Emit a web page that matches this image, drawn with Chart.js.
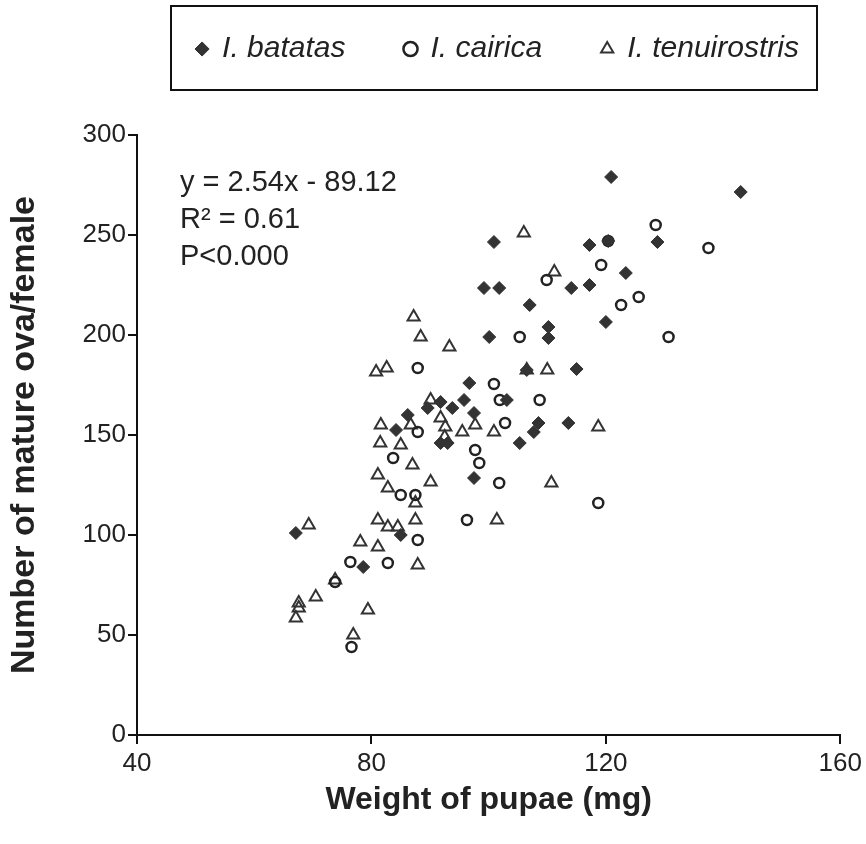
<!DOCTYPE html>
<html>
<head>
<meta charset="utf-8">
<script src="https://cdn.jsdelivr.net/npm/chart.js@4.4.1/dist/chart.umd.min.js"></script>
<style>
  html, body { margin: 0; padding: 0; background: #fff; }
</style>
</head>
<body>
<canvas id="scatter" width="866" height="844"></canvas>
<script>
// Values (x = weight of pupae in mg, y = mature ova per female)
const batatasX = [120.9, 143.0, 100.9, 117.2, 120.4, 128.8, 123.4, 99.2, 101.8, 114.1, 117.2, 107.0, 120.0,
    100.1, 110.2, 110.2, 106.5, 115.0, 96.7, 103.1, 95.8, 91.8, 89.6, 93.8, 97.5, 86.2, 84.2, 91.8, 93.0,
    108.5, 107.7, 113.6, 105.3, 97.5, 85.0, 78.6, 67.1];
const batatasY = [279, 271.5, 246.5, 245, 247, 246.5, 231, 223.5, 223.5, 223.5, 225, 215, 206.5,
    199, 204, 198.5, 182.5, 183, 176, 167.5, 167.5, 166.5, 163.5, 163.5, 161, 160, 152.5, 146, 146,
    156, 151.5, 156, 146, 128.5, 100, 84, 101];

const cairicaX = [128.5, 137.5, 119.2, 109.9, 125.6, 122.6, 130.7, 105.3, 87.9, 100.9, 101.9, 108.7, 102.8,
    87.9, 97.7, 98.4, 83.7, 101.8, 118.7, 85.0, 87.5, 96.3, 87.9, 76.4, 82.8, 73.8, 76.6, 120.4];
const cairicaY = [255, 243.5, 235, 227.5, 219, 215, 199, 199, 183.5, 175.5, 167.5, 167.5, 156,
    151.5, 142.5, 136, 138.5, 126, 116, 120, 120, 107.5, 97.5, 86.5, 86, 76.5, 44, 247];

const tenuiX = [106.0, 111.2, 87.2, 88.4, 93.3, 80.8, 82.6, 106.5, 110.0, 90.1, 91.8, 97.7, 81.6, 86.7,
    92.6, 95.5, 100.9, 118.7, 81.5, 85.0, 92.5, 87.0, 81.1, 90.1, 82.8, 87.5, 110.7, 81.1, 82.8, 84.5,
    87.5, 101.4, 78.1, 81.1, 87.9, 69.3, 73.8, 70.5, 67.6, 67.6, 67.1, 79.4, 76.9];
const tenuiY = [251, 231.5, 209, 199, 194, 181.5, 183.5, 182.5, 182.5, 167.5, 158.5, 155, 155, 155,
    154, 151.5, 151.5, 154, 146, 145, 149, 135, 130, 126.5, 123.5, 116, 126, 107.5, 104, 104,
    107.5, 107.5, 96.5, 94, 85, 105, 77.5, 69, 66, 63.5, 58.5, 62.5, 50];

const seriesNames = ['I. batatas', 'I. cairica', 'I. tenuirostris'];
const xTicks = [40, 80, 120, 160];
const yTicks = [0, 50, 100, 150, 200, 250, 300];
const statLines = ['y = 2.54x - 89.12', 'R\u00B2 = 0.61', 'P<0.000'];

const FONT = '"Liberation Sans", Arial, sans-serif';
const INK = '#222';

function toPoints(xs, ys) {
    return xs.map((x, i) => ({ x: x, y: ys[i] }));
}

// Box round the legend, and the regression text in the top-left of the plot
const extrasPlugin = {
    id: 'extras',
    beforeInit(chart) {
        const legend = chart.legend;
        const originalFit = legend.fit;
        legend.fit = function fit() {
            originalFit.bind(legend)();
            this.height = 135;
        };
        // nudge the legend row into the framed box
        const originalDraw = legend.draw;
        legend.draw = function draw() {
            chart.ctx.save();
            chart.ctx.translate(75, -26);
            originalDraw.bind(legend)();
            chart.ctx.restore();
        };
    },
    afterDraw(chart) {
        const ctx = chart.ctx;
        ctx.save();
        ctx.strokeStyle = '#111';
        ctx.lineWidth = 2;
        ctx.strokeRect(171, 6, 646, 84);

        ctx.fillStyle = INK;
        ctx.font = '29px ' + FONT;
        ctx.textBaseline = 'middle';
        ctx.textAlign = 'left';
        statLines.forEach((line, i) => {
            ctx.fillText(line, 180, 183 + i * 37);
        });
        ctx.restore();
    }
};

const ctx = document.getElementById('scatter').getContext('2d');
const chart = new Chart(ctx, {
    type: 'scatter',
    data: {
        datasets: [
            {
                label: seriesNames[0],
                data: toPoints(batatasX, batatasY),
                pointStyle: 'rectRot',
                pointRadius: 6.5,
                backgroundColor: '#333',
                borderColor: '#333',
                borderWidth: 1
            },
            {
                label: seriesNames[1],
                data: toPoints(cairicaX, cairicaY),
                pointStyle: 'circle',
                pointRadius: 5,
                backgroundColor: 'rgba(255,255,255,0)',
                borderColor: '#222',
                borderWidth: 2.5
            },
            {
                label: seriesNames[2],
                data: toPoints(tenuiX, tenuiY),
                pointStyle: 'triangle',
                pointRadius: 7,
                backgroundColor: 'rgba(255,255,255,0)',
                borderColor: '#333',
                borderWidth: 2
            }
        ]
    },
    options: {
        responsive: false,
        animation: false,
        devicePixelRatio: 1,
        layout: { padding: { left: 0, right: 20, top: 0, bottom: 0 } },
        plugins: {
            tooltip: { enabled: false },
            legend: {
                position: 'top',
                labels: {
                    usePointStyle: true,
                    boxWidth: 10,
                    boxHeight: 10,
                    padding: 60,
                    color: INK,
                    font: { family: FONT, size: 30, style: 'italic' }
                }
            }
        },
        scales: {
            x: {
                type: 'linear',
                min: xTicks[0],
                max: xTicks[xTicks.length - 1],
                afterBuildTicks: (axis) => { axis.ticks = xTicks.map(v => ({ value: v })); },
                afterFit: (axis) => { axis.height = 109; },
                border: { display: true, color: '#111', width: 2 },
                grid: { display: true, drawOnChartArea: false, drawTicks: true, tickLength: 9, color: '#111', lineWidth: 2 },
                ticks: { color: INK, padding: 4, font: { family: FONT, size: 26 } },
                title: {
                    display: true,
                    text: 'Weight of pupae (mg)',
                    color: INK,
                    padding: { top: 0, bottom: 25 },
                    font: { family: FONT, size: 32, weight: 'bold' }
                }
            },
            y: {
                type: 'linear',
                min: yTicks[0],
                max: yTicks[yTicks.length - 1],
                afterBuildTicks: (axis) => { axis.ticks = yTicks.map(v => ({ value: v })); },
                afterFit: (axis) => { axis.width = 137; },
                border: { display: true, color: '#111', width: 2 },
                grid: { display: true, drawOnChartArea: false, drawTicks: true, tickLength: 9, color: '#111', lineWidth: 2 },
                ticks: { color: INK, padding: 2, font: { family: FONT, size: 26 } },
                title: {
                    display: true,
                    text: 'Number of mature ova/female',
                    color: INK,
                    padding: { top: 4, bottom: 0 },
                    font: { family: FONT, size: 34, weight: 'bold' }
                }
            }
        }
    },
    plugins: [extrasPlugin]
});
</script>
</body>
</html>
